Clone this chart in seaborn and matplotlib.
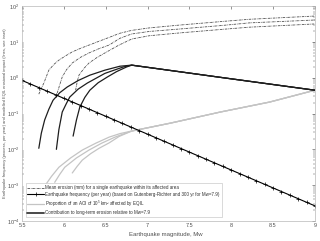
import matplotlib
matplotlib.use("Agg")
import matplotlib.pyplot as plt
import seaborn as sns
from matplotlib.ticker import LogLocator, NullFormatter, FixedLocator, FixedFormatter
from matplotlib.lines import Line2D

# ---------------- data ----------------
magnitudes = [5.5, 5.6, 5.7, 5.8, 5.9, 6.0, 6.1, 6.2, 6.3, 6.4, 6.5, 6.6, 6.7, 6.8,
              6.9, 7.0, 7.1, 7.2, 7.3, 7.4, 7.5, 7.6, 7.7, 7.8, 7.9, 8.0, 8.1, 8.2,
              8.3, 8.4, 8.5, 8.6, 8.7, 8.8, 8.9, 9.0]
eq_frequency = [0.8373, 0.6651, 0.5283, 0.4196, 0.3333, 0.2648, 0.2103, 0.1671,
                0.1327, 0.1054, 0.08373, 0.06651, 0.05283, 0.04196, 0.03333,
                0.02648, 0.02103, 0.01671, 0.01327, 0.01054, 0.008373, 0.006651,
                0.005283, 0.004196, 0.003333, 0.002648, 0.002103, 0.001671,
                0.001327, 0.001054, 0.0008373, 0.0006651, 0.0005283, 0.0004196,
                0.0003333, 0.0002648]

# mean erosion (mm), three model curves
erosion_a_mw = [5.70, 5.73, 5.76, 5.79, 5.82, 5.88, 5.94, 6.02, 6.10, 6.20, 6.30,
                6.49, 6.67, 6.81, 7.02, 7.39, 7.90, 8.22, 9.00]
erosion_a = [0.347, 0.501, 0.708, 1.072, 1.622, 2.344, 3.09, 4.07, 5.25, 6.61, 8.13,
             12.0, 17.4, 20.9, 24.5, 29.5, 37.2, 42.7, 52.5]
erosion_b_mw = [5.92, 5.95, 5.98, 6.03, 6.10, 6.20, 6.30, 6.42, 6.54, 6.67, 6.81,
                7.02, 7.39, 7.90, 8.22, 9.00]
erosion_b = [0.372, 0.631, 1.047, 1.66, 2.57, 3.72, 4.90, 6.46, 8.13, 12.6, 16.6,
             19.5, 22.9, 28.8, 33.9, 40.7]
erosion_c_mw = [6.14, 6.16, 6.18, 6.24, 6.30, 6.40, 6.49, 6.65, 6.81, 7.02, 7.39,
                7.90, 8.22, 9.00]
erosion_c = [0.447, 0.794, 1.175, 1.82, 2.57, 3.72, 4.90, 7.94, 12.0, 14.8, 17.8,
             22.4, 25.7, 31.6]

# proportion of an AOI affected, three model curves
prop_a_mw = [5.70, 5.76, 5.85, 5.94, 6.08, 6.22, 6.38, 6.54, 6.67, 6.81, 7.27, 7.87,
             8.46, 9.00]
prop_a = [3.55e-4, 8.71e-4, 1.74e-3, 3.16e-3, 5.75e-3, 9.55e-3, 0.0148, 0.0219,
          0.0275, 0.0324, 0.0537, 0.110, 0.209, 0.447]
prop_b_mw = [5.89, 5.95, 6.01, 6.15, 6.30, 6.45, 6.61, 6.81, 7.27, 7.87, 8.46, 9.00]
prop_b = [1.20e-3, 2.00e-3, 3.16e-3, 5.75e-3, 9.55e-3, 0.0148, 0.0219, 0.0324,
          0.0537, 0.110, 0.209, 0.447]
prop_c_mw = [6.10, 6.16, 6.22, 6.32, 6.42, 6.54, 6.66, 6.81, 7.27, 7.87, 8.46, 9.00]
prop_c = [2.19e-3, 3.39e-3, 5.01e-3, 7.59e-3, 0.0107, 0.0151, 0.0229, 0.0324,
          0.0537, 0.110, 0.209, 0.447]

# contribution to long-term erosion relative to Mw=7.9, three model curves
contrib_a_mw = [5.70, 5.73, 5.77, 5.82, 5.87, 5.95, 6.04, 6.17, 6.31, 6.49, 6.67,
                6.81, 7.90, 9.00]
contrib_a = [0.0107, 0.0282, 0.0661, 0.132, 0.234, 0.380, 0.550, 0.832, 1.175,
             1.622, 2.089, 2.239, 1.0, 0.447]
contrib_b_mw = [5.91, 5.94, 5.98, 6.03, 6.07, 6.17, 6.28, 6.49, 6.71, 6.81, 7.90, 9.00]
contrib_b = [0.0100, 0.0355, 0.110, 0.191, 0.288, 0.479, 0.708, 1.318, 1.995, 2.239,
             1.0, 0.447]
contrib_c_mw = [6.11, 6.15, 6.19, 6.25, 6.31, 6.41, 6.52, 6.63, 6.75, 6.81, 7.90, 9.00]
contrib_c = [0.0234, 0.0661, 0.151, 0.282, 0.447, 0.724, 1.047, 1.479, 1.995, 2.239,
             1.0, 0.447]

x_ticks = [5.5, 6.0, 6.5, 7.0, 7.5, 8.0, 8.5, 9.0]
x_tick_labels = ["5.5", "6", "6.5", "7", "7.5", "8", "8.5", "9"]
y_ticks = [1e-4, 1e-3, 1e-2, 1e-1, 1e0, 1e1, 1e2]
y_tick_labels = ["10$^{-4}$", "10$^{-3}$", "10$^{-2}$", "10$^{-1}$", "10$^{0}$",
                 "10$^{1}$", "10$^{2}$"]

legend_labels = [
    "Mean erosion (mm) for a single earthquake within its affected area",
    "Earthquake frequency (per year) (based on Gutenberg-Richter and 300 yr for Mw=7.9)",
    "Proportion of an AOI of 10$^{5}$ km² affected by EQIL",
    "Contribution to long-term erosion relative to Mw=7.9",
]

# ---------------- style ----------------
sns.set_theme(style="white")
plt.rcParams["font.family"] = ["Liberation Sans", "DejaVu Sans"]
plt.rcParams["mathtext.fontset"] = "custom"
plt.rcParams["mathtext.rm"] = "Liberation Sans"
plt.rcParams["mathtext.it"] = "Liberation Sans:italic"

fig = plt.figure(figsize=(3.2, 2.41), dpi=100)
ax = fig.add_axes([0.069, 0.083, 0.915, 0.892])

dashdot = (0, (3.0, 1.0, 0.8, 1.0))
c_ero = "#505050"
c_prop = "#c4c4c4"
c_con = "#1e1e1e"

for xs, ys in [(prop_a_mw, prop_a), (prop_b_mw, prop_b), (prop_c_mw, prop_c)]:
    sns.lineplot(x=xs, y=ys, ax=ax, color=c_prop, lw=0.9, sort=False, estimator=None)
for xs, ys in [(erosion_a_mw, erosion_a), (erosion_b_mw, erosion_b), (erosion_c_mw, erosion_c)]:
    sns.lineplot(x=xs, y=ys, ax=ax, color=c_ero, lw=0.6, linestyle=dashdot,
                 sort=False, estimator=None)
for xs, ys in [(contrib_a_mw, contrib_a), (contrib_b_mw, contrib_b), (contrib_c_mw, contrib_c)]:
    sns.lineplot(x=xs, y=ys, ax=ax, color=c_con, lw=0.9, sort=False, estimator=None)
sns.lineplot(x=magnitudes, y=eq_frequency, ax=ax, color="black", lw=0.8, marker="+",
             markersize=2.6, markeredgewidth=0.5, markeredgecolor="black",
             sort=False, estimator=None)

ax.set_yscale("log")
ax.set_xlim(5.5, 9.0)
ax.set_ylim(1e-4, 1e2)
ax.xaxis.set_major_locator(FixedLocator(x_ticks))
ax.xaxis.set_major_formatter(FixedFormatter(x_tick_labels))
ax.yaxis.set_major_locator(FixedLocator(y_ticks))
ax.yaxis.set_major_formatter(FixedFormatter(y_tick_labels))
ax.yaxis.set_minor_locator(LogLocator(base=10, subs=range(2, 10), numticks=100))
ax.yaxis.set_minor_formatter(NullFormatter())

tick_col = "#444444"
ax.tick_params(axis="both", which="major", direction="in", top=True, right=True,
               length=2.0, width=0.4, labelsize=4.0, pad=1.8, colors=tick_col,
               labelcolor="#505050")
ax.tick_params(axis="y", which="minor", direction="in", left=True, right=True,
               length=1.1, width=0.3, colors=tick_col)
for s in ax.spines.values():
    s.set_color("#b8b8b8")
    s.set_linewidth(0.5)

ax.set_xlabel("Earthquake magnitude, Mw", fontsize=4.3, color="#505050")
ax.xaxis.set_label_coords(0.49, -0.052)
ax.set_ylabel("Earthquake frequency (process, per year) and modelled EQIL erosional "
              "impact (lines, see inset)", fontsize=2.85, color="#505050")
ax.yaxis.set_label_coords(-0.052, 0.5)

handles = [
    Line2D([], [], color=c_ero, lw=0.6, linestyle=dashdot),
    Line2D([], [], color="black", lw=0.8, marker="+", markersize=2.6,
           markeredgewidth=0.5),
    Line2D([], [], color=c_prop, lw=0.9),
    Line2D([], [], color="#3a3a3a", lw=1.3),
]
leg = ax.legend(handles, legend_labels, loc="lower left", bbox_to_anchor=(0.012, 0.018),
                fontsize=3.25, frameon=True, fancybox=False, framealpha=1,
                edgecolor="#bdbdbd", handlelength=3.7, handletextpad=0.3,
                labelspacing=0.35, borderpad=0.4, borderaxespad=0)
leg.get_frame().set_linewidth(0.4)
for t in leg.get_texts():
    t.set_color("#303030")

fig.savefig("out.png", dpi=100)
